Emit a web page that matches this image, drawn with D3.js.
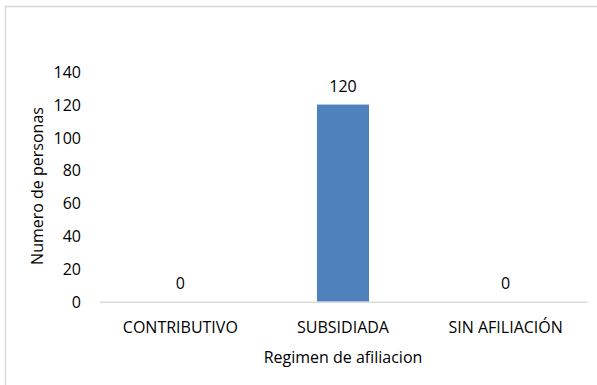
<!DOCTYPE html>
<html>
<head>
<meta charset="utf-8">
<script src="https://cdn.jsdelivr.net/npm/d3@7"></script>
<style>
  html, body { margin: 0; padding: 0; background: #fff; }
  svg { display: block; }
  text { font-family: "Open Sans", "Noto Sans", sans-serif; fill: #000; }
</style>
</head>
<body>
<svg id="chart" width="597" height="385"></svg>
<script>
// Afiliación al sistema de salud
const categories = ["CONTRIBUTIVO", "SUBSIDIADA", "SIN AFILIACIÓN"];
const personas = [0, 120, 0];
const yTicks = [0, 20, 40, 60, 80, 100, 120, 140];
const xTitle = "Regimen de afiliacion";
const yTitle = "Numero de personas";

const svg = d3.select("#chart");
const W = 597, H = 385;
const plot = { left: 99, right: 587, top: 71.7, bottom: 301.7 };
const fs = 16;

// chart area frame (open at the right and bottom)
svg.append("rect")
  .attr("x", 5.5).attr("y", 6.5)
  .attr("width", W).attr("height", H)
  .attr("fill", "#fff")
  .attr("stroke", "#d9d9d9").attr("stroke-width", 1.5);

const x = d3.scaleBand()
  .domain(categories)
  .range([plot.left, plot.right])
  .paddingInner(0.68).paddingOuter(0.34);

const y = d3.scaleLinear()
  .domain([0, 140])
  .range([plot.bottom, plot.top]);

// y axis: labels only
const yAxis = svg.append("g")
  .attr("transform", `translate(${plot.left - 18},0)`)
  .call(d3.axisLeft(y).tickValues(yTicks).tickSize(0).tickPadding(0));
yAxis.select(".domain").remove();
yAxis.selectAll("text")
  .attr("font-size", fs)
  .attr("font-family", "Open Sans")
  .attr("dy", "0.35em");

// bars
svg.append("g").selectAll("rect")
  .data(personas)
  .join("rect")
  .attr("x", (d, i) => x(categories[i]))
  .attr("y", d => y(d))
  .attr("width", x.bandwidth())
  .attr("height", d => y(0) - y(d))
  .attr("fill", "#4f81bd");

// baseline
const xAxis = svg.append("g")
  .attr("transform", `translate(0,${plot.bottom})`)
  .call(d3.axisBottom(x).tickSize(0).tickPadding(20));
xAxis.select(".domain")
  .attr("stroke", "#d9d9d9").attr("stroke-width", 1.5);
xAxis.selectAll("text")
  .attr("font-size", fs)
  .attr("font-family", "Open Sans");

// value labels
svg.append("g").selectAll("text")
  .data(personas)
  .join("text")
  .attr("x", (d, i) => x(categories[i]) + x.bandwidth() / 2)
  .attr("y", d => y(d) - 13)
  .attr("text-anchor", "middle")
  .attr("font-size", fs)
  .text(d => d);

// axis titles
svg.append("text")
  .attr("x", (plot.left + plot.right) / 2)
  .attr("y", 363)
  .attr("text-anchor", "middle")
  .attr("font-size", fs)
  .text(xTitle);

svg.append("text")
  .attr("transform", `translate(43,186) rotate(-90)`)
  .attr("text-anchor", "middle")
  .attr("font-size", fs)
  .text(yTitle);
</script>
</body>
</html>
